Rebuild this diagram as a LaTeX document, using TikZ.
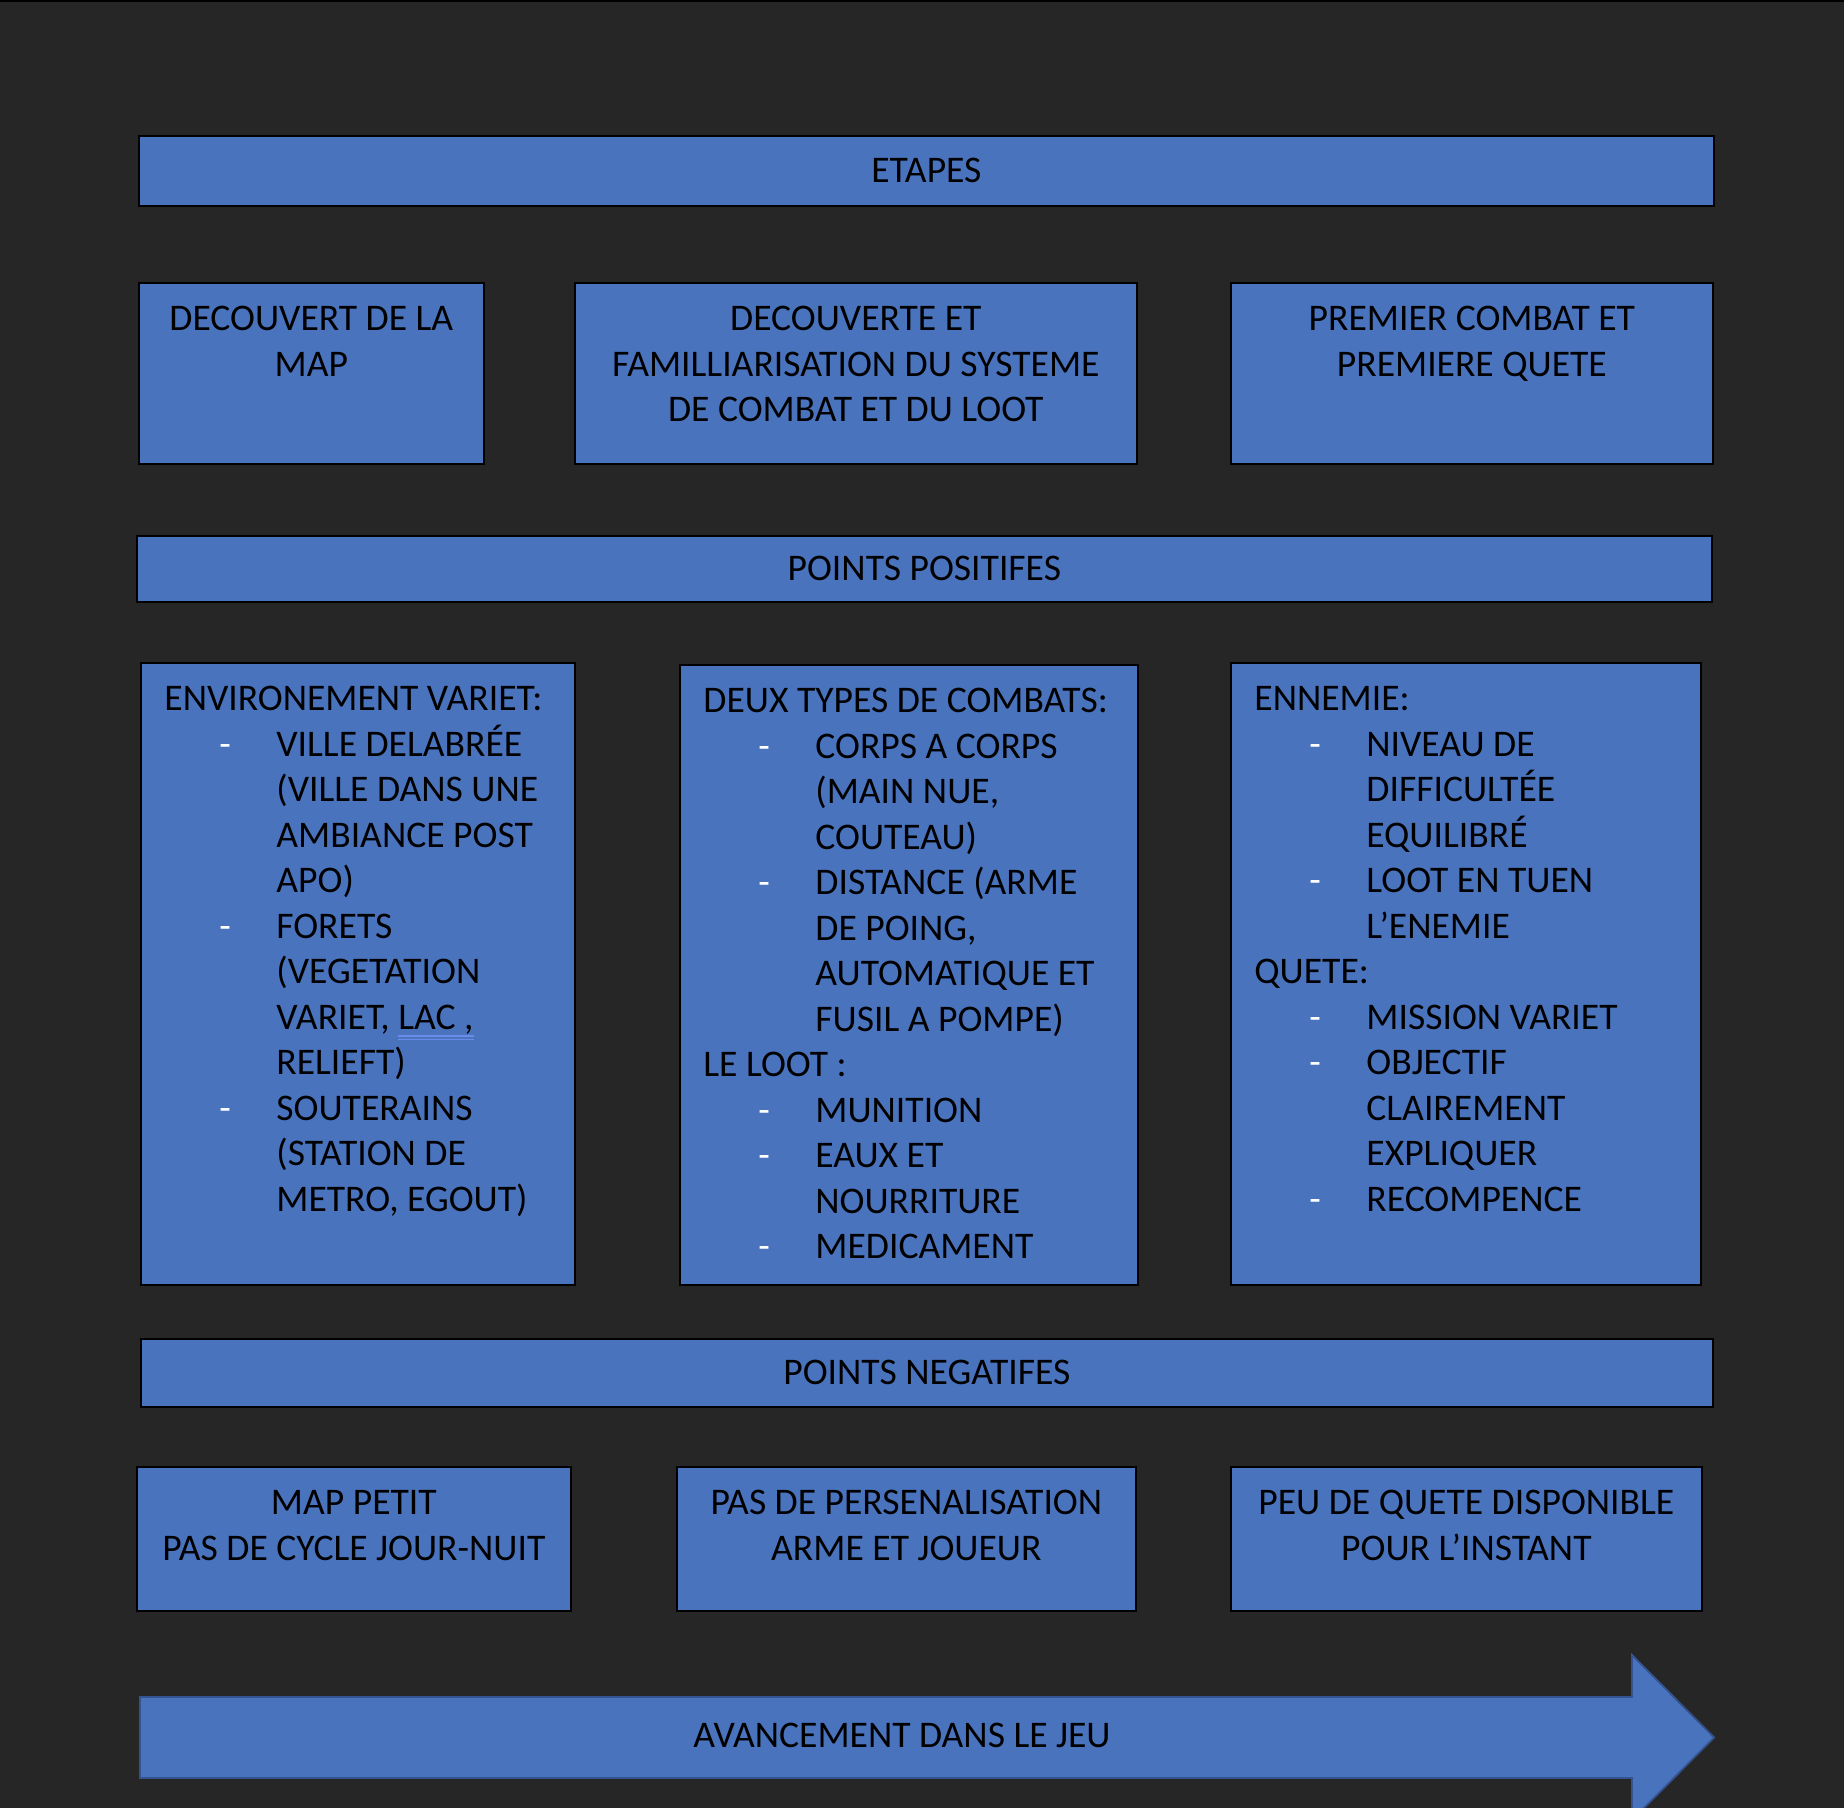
\documentclass[tikz,border=0pt]{standalone}
\usepackage{fontspec}
\setmainfont{Carlito}
\usepackage{xcolor}
\usepackage{tikz}
\usetikzlibrary{positioning}
\definecolor{bgdark}{RGB}{38,38,38}
\definecolor{boxblue}{RGB}{74,115,190}
\definecolor{edgeblue}{RGB}{52,84,145}
\definecolor{lineblue}{RGB}{105,140,235}
\newcommand{\dashitem}{\hspace*{27.5pt}\makebox[28.5pt][l]{\textcolor{white}{-}}}
\newcommand{\contline}{\hspace*{56pt}}
\newcommand{\gramline}[1]{\setbox0\hbox{#1}\rlap{\color{lineblue}\rule[-3.6pt]{\wd0}{0.8pt}\hspace{-\wd0}\rule[-5.4pt]{\wd0}{0.8pt}}\box0}

\begin{document}
\begin{tikzpicture}[x=0.5pt, y=-0.5pt, font=\fontsize{18.8}{22.75}\selectfont,
  panel/.style={draw=black, line width=0.85pt, fill=boxblue, inner sep=0pt, anchor=north west},
  txt/.style={inner sep=0pt, text=black}]
\useasboundingbox (0,0) rectangle (1844,1808);
\fill[bgdark] (0,0) rectangle (1844,1808);
\fill[black] (0,0) rectangle (1844,2);

% bandeaux
\node[panel, minimum width=787.5pt, minimum height=35pt] (etapes) at (138,135) {ETAPES};
\node[panel, minimum width=787.5pt, minimum height=33pt] (positifs) at (136,535) {POINTS POSITIFES};
\node[panel, minimum width=786pt, minimum height=34pt] (negatifs) at (140,1338) {POINTS NEGATIFES};

% etapes
\node[panel, minimum width=172.5pt, minimum height=90.5pt] (decouvert) at (138,282) {};
\node[panel, minimum width=281pt, minimum height=90.5pt] (systeme) at (574,282) {};
\node[panel, minimum width=241pt, minimum height=90.5pt] (combat) at (1230,282) {};
\node[txt, align=center, below=12pt of decouvert.north] (decouverttxt) {DECOUVERT DE LA\\MAP};
\node[txt, align=center, below=12pt of systeme.north] (systemetxt) {DECOUVERTE ET\\FAMILLIARISATION DU SYSTEME\\DE COMBAT ET DU LOOT};
\node[txt, align=center, below=12pt of combat.north] (combattxt) {PREMIER COMBAT ET\\PREMIERE QUETE};

% points positifs
\node[panel, minimum width=217pt, minimum height=311pt] (environ) at (140,662) {};
\node[panel, minimum width=229pt, minimum height=310pt] (types) at (679,664) {};
\node[panel, minimum width=235pt, minimum height=311pt] (ennemie) at (1230,662) {};
\node[txt, align=left, below right=12pt and 12pt of environ.north west] (environtxt)
{ENVIRONEMENT VARIET:\\
\dashitem VILLE DELABRÉE\\
\contline (VILLE DANS UNE\\
\contline AMBIANCE POST\\
\contline APO)\\
\dashitem FORETS\\
\contline (VEGETATION\\
\contline VARIET, \gramline{LAC ,}\\
\contline RELIEFT)\\
\dashitem SOUTERAINS\\
\contline (STATION DE\\
\contline METRO, EGOUT)};
\node[txt, align=left, below right=12pt and 12pt of types.north west] (typestxt)
{DEUX TYPES DE COMBATS:\\
\dashitem CORPS A CORPS\\
\contline (MAIN NUE,\\
\contline COUTEAU)\\
\dashitem DISTANCE (ARME\\
\contline DE POING,\\
\contline AUTOMATIQUE ET\\
\contline FUSIL A POMPE)\\
LE LOOT :\\
\dashitem MUNITION\\
\dashitem EAUX ET\\
\contline NOURRITURE\\
\dashitem MEDICAMENT};
\node[txt, align=left, below right=12pt and 12pt of ennemie.north west] (ennemietxt)
{ENNEMIE:\\
\dashitem NIVEAU DE\\
\contline DIFFICULTÉE\\
\contline EQUILIBRÉ\\
\dashitem LOOT EN TUEN\\
\contline L’ENEMIE\\
QUETE:\\
\dashitem MISSION VARIET\\
\dashitem OBJECTIF\\
\contline CLAIREMENT\\
\contline EXPLIQUER\\
\dashitem RECOMPENCE};

% points negatifs
\node[panel, minimum width=217pt, minimum height=72pt] (mappetit) at (136,1466) {};
\node[panel, minimum width=229.5pt, minimum height=72pt] (perso) at (676,1466) {};
\node[panel, minimum width=235.5pt, minimum height=72pt] (peuquete) at (1230,1466) {};
\node[txt, align=center, below=12pt of mappetit.north] (mappetittxt) {MAP PETIT\\PAS DE CYCLE JOUR-NUIT};
\node[txt, align=center, below=12pt of perso.north] (persotxt) {PAS DE PERSENALISATION\\ARME ET JOUEUR};
\node[txt, align=center, below=12pt of peuquete.north] (peuquetetxt) {PEU DE QUETE DISPONIBLE\\POUR L’INSTANT};

% fleche
\draw[edgeblue, line width=0.9pt, fill=boxblue] (140,1697) -- (1632,1697) -- (1632,1655) -- (1714,1737.5)
  -- (1632,1820) -- (1632,1778) -- (140,1778) -- cycle;
\node[txt] (avancement) at (902,1735) {AVANCEMENT DANS LE JEU};
\end{tikzpicture}
\end{document}
